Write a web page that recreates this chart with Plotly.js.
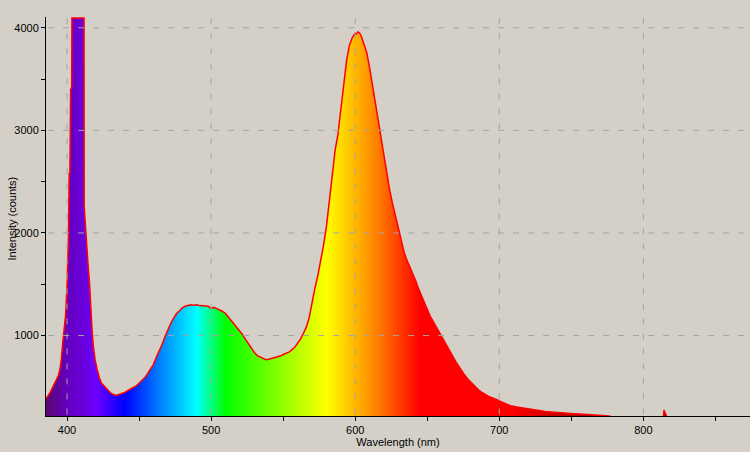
<!DOCTYPE html>
<html><head><meta charset="utf-8">
<script src="https://cdn.plot.ly/plotly-3.0.1.min.js"></script>
<style>html,body{margin:0;padding:0;background:#d4d0c8}</style>
</head><body><div id="chart" style="width:750px;height:452px"></div>
<script>
// Wavelength (nm) and detector counts
const wavelength = [384,386,388,390,391,392,393,394,395,396,397,398,399,400,401,401.5,402,402.5,403.2,403.4,411.8,
  411.9,413.2,414.5,415.6,416.2,417,417.5,418.3,419.5,421,422.5,424,426,428,430,432,434,436,438,440,
  442,444,446,448,450,452,454,456,458,460,462,464,466,468,470,472,474,476,478,480,482,484,486,488,490,
  492,494,496,498,500,502,504,506,508,510,512,514,516,518,520,522,524,526,528,530,532,534,536,538,540,
  542,544,546,548,550,552,554,556,558,560,562,564,566,568,570,572,574,576,578,580,582,584,586,588,590,
  592,594,596,598,600,601,602,603,604,606,608,610,612,614,616,618,620,622,624,626,628,630,632,634,636,
  638,640,642,644,646,648,650,652,654,656,658,660,662,664,666,668,670,672,674,676,678,680,682,684,686,
  688,690,692,694,696,698,700,704,708,712,716,720,724,728,732,736,740,744,748,752,756,760,764,768,772,
  776,780,812,813.9,814.3,815.5,816.5,874];
const counts = [380,395,438,495,530,551,575,610,665,760,930,1050,1200,1480,1960,2580,2590,3400,3420,4095,4095,
  2260,1934,1707,1511,1316,1153,1023,893,763,665,584,535,502,470,445,425,418,425,432,445,
  462,478,490,510,535,560,590,630,675,720,790,850,915,990,1060,1120,1170,1215,1240,1270,1285,1290,1300,1295,1300,
  1292,1290,1290,1285,1265,1275,1262,1250,1235,1215,1180,1150,1120,1085,1050,1005,960,915,870,835,805,790,775,765,770,
  778,785,790,800,815,825,838,860,885,925,965,1020,1080,1170,1320,1460,1580,1720,1880,2060,2290,2580,2800,2960,3210,
  3460,3680,3830,3905,3945,3940,3960,3950,3925,3850,3760,3610,3440,3250,3070,2900,2730,2570,2410,2280,2160,2030,1910,1810,1730,
  1670,1610,1535,1455,1385,1320,1250,1190,1140,1090,1040,990,935,880,830,785,740,700,655,615,580,550,520,490,465,
  445,425,412,400,390,378,362,338,315,305,295,284,275,268,260,255,249,245,242,238,235,232,230,227,222,
  216,200,200,200,275,240,200,200];

const xTickVals = [400,450,500,550,600,650,700,750,800,850];
const xTickText = ['400','','500','','600','','700','','800',''];
const yTickVals = [1000,1500,2000,2500,3000,3500,4000];
const yTickText = ['1000','','2000','','3000','','4000'];
const xGridVals = [400,500,600,700,800];
const yGridVals = [1000,2000,3000,4000];

// spectrum colour stops (style): wavelength -> colour
const gradStart = 380, gradStop = 780;
const spectrumStops = [
  [380,'rgb(80,0,95)'],[385,'rgb(90,5,110)'],[400,'rgb(100,0,190)'],[410,'rgb(105,0,215)'],
  [420,'rgb(110,0,255)'],[440,'rgb(0,0,255)'],[465,'rgb(0,130,255)'],[490,'rgb(0,255,255)'],
  [510,'rgb(0,255,0)'],[545,'rgb(128,255,0)'],[580,'rgb(255,255,0)'],[612,'rgb(255,140,0)'],
  [645,'rgb(255,0,0)'],[705,'rgb(255,0,0)'],[740,'rgb(200,0,0)'],[780,'rgb(150,0,0)']
];
const colorscale = spectrumStops.map(s => [(s[0]-gradStart)/(gradStop-gradStart), s[1]]);

const trace = {
  x: wavelength, y: counts, type: 'scatter', mode: 'lines',
  line: {color: '#ff0000', width: 1.5, shape: 'linear'},
  fill: 'tozeroy',
  fillgradient: {type: 'horizontal', colorscale: colorscale, start: gradStart, stop: gradStop},
  hoverinfo: 'skip'
};

const gridStyle = {color: '#a4a4a4', width: 1, dash: '6px,9px'};
const shapes = [];
xGridVals.forEach(v => shapes.push({type:'line', xref:'x', yref:'paper', x0:v, x1:v, y0:0.004, y1:1, layer:'above', line:gridStyle}));
yGridVals.forEach(v => shapes.push({type:'line', xref:'paper', yref:'y', x0:0.003, x1:1, y0:v, y1:v, layer:'above', line:gridStyle}));

const axisCommon = {
  ticks: 'outside', ticklen: 4, tickcolor: '#000', tickwidth: 1,
  showline: true, linecolor: '#000', linewidth: 1,
  showgrid: false, zeroline: false, automargin: false, fixedrange: true
};

const layout = {
  width: 750, height: 452,
  paper_bgcolor: '#d4d0c8', plot_bgcolor: '#d4d0c8',
  margin: {l: 46, r: 0, t: 17, b: 36},
  showlegend: false,
  font: {family: '"Liberation Sans", Arial, sans-serif', size: 11, color: '#000'},
  xaxis: Object.assign({}, axisCommon, {
    range: [385.4, 874], tickmode: 'array', tickvals: xTickVals, ticktext: xTickText,
    title: {text: 'Wavelength (nm)', standoff: 2, font: {size: 11}}
  }),
  yaxis: Object.assign({}, axisCommon, {
    range: [216, 4105], tickmode: 'array', tickvals: yTickVals, ticktext: yTickText
  }),
  annotations: [{
    text: 'Intensity (counts)', xref: 'paper', yref: 'paper', x: -34/704, y: 0.495,
    xanchor: 'center', yanchor: 'middle', textangle: -90, showarrow: false, font: {size: 11}
  }],
  shapes: shapes
};

Plotly.newPlot('chart', [trace], layout, {displayModeBar: false, staticPlot: true});
</script></body></html>
